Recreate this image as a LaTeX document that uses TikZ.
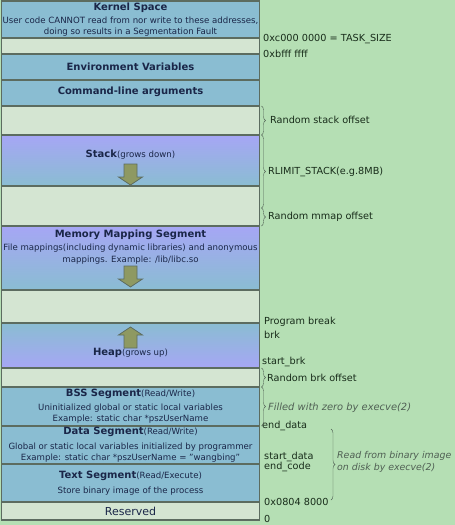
\documentclass[tikz,border=0pt]{standalone}
\usepackage{fontspec}
\setmainfont{DejaVu Sans}
\usetikzlibrary{positioning,calc,decorations.pathreplacing}
\definecolor{fond}{RGB}{181,223,180}
\definecolor{pale}{RGB}{212,229,210}
\definecolor{bleu}{RGB}{138,189,210}
\definecolor{mauve}{RGB}{166,166,245}
\definecolor{bord}{RGB}{92,108,96}
\definecolor{marine}{RGB}{26,38,72}
\definecolor{vertfonce}{RGB}{24,44,26}
\definecolor{gris}{RGB}{80,96,84}
\definecolor{olive}{RGB}{142,153,98}
\newcommand{\petit}[1]{{\mdseries\fontsize{8.6}{10}\selectfont#1}}

\begin{document}
\begin{tikzpicture}[x=1pt,y=-1pt,
	seg/.style={draw=bord,line width=1.5pt,minimum width=258pt,inner sep=0pt,outer sep=0pt},
	bleubox/.style={seg,fill=bleu},
	palebox/.style={seg,fill=pale},
	descend/.style={seg,top color=mauve,bottom color=bleu},
	monte/.style={seg,top color=bleu,bottom color=mauve},
	titre/.style={font=\fontsize{10}{12}\selectfont\bfseries,text=marine,inner sep=0pt},
	note/.style={font=\fontsize{8.6}{11.5}\selectfont,text=marine,align=center,inner sep=0pt},
	adresse/.style={font=\fontsize{9.7}{10}\selectfont,text=vertfonce,anchor=west,inner sep=0pt},
	remarque/.style={adresse,font=\fontsize{9.9}{12}\selectfont\itshape,text=gris,align=left},
	accolade/.style={draw=gris,thin,decorate,decoration={brace,amplitude=4pt}},
	fleche/.style={fill=olive,draw=bord,line width=0.8pt,line join=miter}]
	\useasboundingbox (0,0) rectangle (455,525);
	\fill[fond] (0,0) rectangle (455,525);
	
	%% segments de la memoire
	\foreach \nom/\ya/\yb/\sty in {kernel/0.75/38/bleubox, vide/38/54/palebox,
		env/54/80/bleubox, args/80/106/bleubox, offpile/106/135/palebox,
		pile/135/186/descend, offmmap/186/226/palebox, mmap/226/290/descend,
		libre/290/323/palebox, tas/323/368/monte, offbrk/368/387/palebox,
		bss/387/426/bleubox, data/426/464/bleubox, text/464/502/bleubox,
		reserve/502/520/palebox}{
		\node[\sty,minimum height={(\yb-\ya)*1pt}] (\nom) at (130.5,{(\ya+\yb)/2}) {};
	}
	
	%% textes des segments
	\node[titre] (ktitre) at (130.5,7.5) {Kernel Space};
	\node[note] (knote) at (130.5,26.5) {User code CANNOT read from nor write to these addresses,\\doing so results in a Segmentation Fault};
	\node[titre] (envtitre) at (130.5,67) {Environment Variables};
	\node[titre] (argstitre) at (130.5,92) {Command-line arguments};
	\node[titre] (piletitre) at (130.5,155) {Stack\petit{(grows down)}};
	\node[titre] (mmaptitre) at (130.5,235) {Memory Mapping Segment};
	\node[note] (mmapnote) at (130.5,254) {File mappings(including dynamic libraries) and anonymous\\mappings. Example: /lib/libc.so};
	\node[titre] (tastitre) at (130.5,353) {Heap\petit{(grows up)}};
	\node[titre] (bsstitre) at (130.5,394) {BSS Segment\petit{(Read/Write)}};
	\node[note] (bssnote) at (130.5,413.5) {Uninitialized global or static local variables\\Example: static char *pszUserName};
	\node[titre] (datatitre) at (130.5,432) {Data Segment\petit{(Read/Write)}};
	\node[note] (datanote) at (130.5,452.5) {Global or static local variables initialized by programmer\\Example: static char *pszUserName = "wangbing"};
	\node[titre] (texttitre) at (130.5,476) {Text Segment\petit{(Read/Execute)}};
	\node[note] (textnote) at (130.5,491) {Store binary image of the process};
	\node[titre,font=\fontsize{11}{12}\selectfont] (reservetitre) at (130.5,511) {Reserved};
	
	%% fleches de croissance
	\foreach \ax/\pointe/\sens in {130.5/185/1,130.5/287/1,130.5/327/-1}
	\filldraw[fleche] (\ax,\pointe) -- ++(12,-8*\sens) -- ++(-5.5,0) -- ++(0,-13*\sens)
	-- ++(-13,0) -- ++(0,13*\sens) -- ++(-5.5,0) -- cycle;
	
	%% adresses et remarques (droite)
	\node[adresse] (tasksize) at (263,39) {0xc000 0000 = TASK\_SIZE};
	\node[adresse] (bfff) at (263,54) {0xbfff ffff};
	\node[adresse] (lblpile) at (270,120) {Random stack offset};
	\node[adresse] (lblrlimit) at (268,172) {RLIMIT\_STACK(e.g.8MB)};
	\node[adresse] (lblmmap) at (268,217) {Random mmap offset};
	\node[adresse] (progbreak) at (264,322) {Program break};
	\node[adresse] (brk) at (264,335) {brk};
	\node[adresse] (startbrk) at (262,362) {start\_brk};
	\node[adresse] (lblbrk) at (267,378) {Random brk offset};
	\node[remarque] (lblbss) at (268,408) {Filled with zero by execve(2)};
	\node[adresse] (enddata) at (262,426) {end\_data};
	\node[adresse] (startdata) at (264,457) {start\_data};
	\node[adresse] (endcode) at (264,467) {end\_code};
	\node[adresse] (base) at (264,502) {0x0804 8000};
	\node[adresse] (zero) at (264,519) {0};
	\node[remarque,font=\fontsize{9.4}{12}\selectfont\itshape] (lblimage) at (337,462) {Read from binary image\\on disk by execve(2)};
	
	%% accolades
	\coordinate (milmmap) at ($(offmmap.north east)!0.55!(offmmap.south east)$);
	\coordinate (imghaut) at (331,429);
	\coordinate (imgbas) at (331,500);
	\draw[accolade] ([xshift=2pt]offpile.north east) -- ([xshift=2pt]offpile.south east);
	\draw[accolade] ([xshift=2pt]pile.north east) -- ([xshift=2pt]milmmap);
	\draw[accolade] ([xshift=2pt]milmmap) -- ([xshift=2pt]offmmap.south east);
	\draw[accolade] ([xshift=2pt]offbrk.north east) -- ([xshift=2pt]offbrk.south east);
	\draw[accolade] ([xshift=2pt]bss.north east) -- ([xshift=2pt]bss.south east);
	\draw[accolade] (imghaut) -- (imgbas);
\end{tikzpicture}
\end{document}
